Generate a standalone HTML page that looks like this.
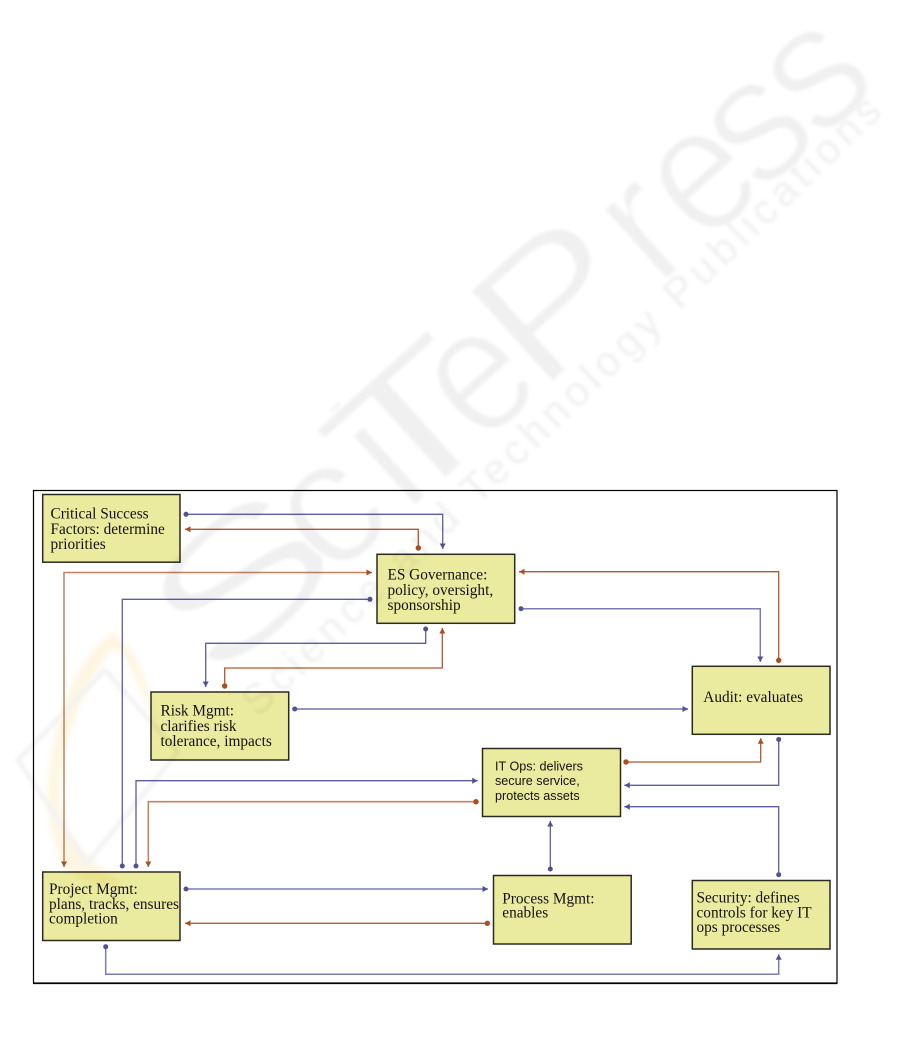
<!DOCTYPE html>
<html>
<head>
<meta charset="utf-8">
<style>
html,body{margin:0;padding:0;background:#fff;width:901px;height:1049px;overflow:hidden}
svg{display:block;position:absolute;left:0;top:0}
.t{font-family:"Liberation Serif",serif;font-size:15.3px;fill:#111}
.s{font-family:"Liberation Sans",sans-serif;font-size:12.6px;fill:#111}
.b{fill:#ebeb9f;stroke:#2a2a1e;stroke-width:1.5}
.bl{fill:none;stroke:#5c5ea4;stroke-width:1.3}
.br{fill:none;stroke:#b4582a;stroke-width:1.3}
.w{font-family:"Liberation Sans",sans-serif;font-size:180px;fill:#f0f0f0;stroke:#fff;stroke-width:3.5}
</style>
</head>
<body>
<svg width="901" height="1049" viewBox="0 0 901 1049" xmlns="http://www.w3.org/2000/svg">
<defs>
<marker id="ab" markerUnits="userSpaceOnUse" markerWidth="8" markerHeight="8" refX="6" refY="4" orient="auto-start-reverse"><path d="M0.5 1 L6 4 L0.5 7 Z" fill="#4f5199"/></marker>
<marker id="ar" markerUnits="userSpaceOnUse" markerWidth="8" markerHeight="8" refX="6" refY="4" orient="auto-start-reverse"><path d="M0.5 1 L6 4 L0.5 7 Z" fill="#ad4f1c"/></marker>
<marker id="db" markerUnits="userSpaceOnUse" markerWidth="6" markerHeight="6" refX="3" refY="3"><circle cx="3" cy="3" r="2.5" fill="#4f5199"/></marker>
<marker id="dr" markerUnits="userSpaceOnUse" markerWidth="6" markerHeight="6" refX="3" refY="3"><circle cx="3" cy="3" r="2.7" fill="#ad4f1c"/></marker>
<filter id="bw" x="-10%" y="-10%" width="120%" height="120%"><feGaussianBlur stdDeviation="1.6"/></filter>
<filter id="bo" x="-20%" y="-20%" width="140%" height="140%"><feGaussianBlur stdDeviation="3"/></filter>
</defs>

<rect x="33.5" y="490.5" width="803.5" height="492.5" fill="#fff" stroke="#000" stroke-width="1.2"/>
<line x1="33" y1="983.3" x2="837.5" y2="983.3" stroke="#000" stroke-width="1.6"/>

<!-- connectors -->
<path class="bl" d="M186 514.3H442.7V549" marker-start="url(#db)" marker-end="url(#ab)"/>
<path class="br" d="M418.3 548V529.3H185" marker-start="url(#dr)" marker-end="url(#ar)"/>
<path class="br" d="M372 572.5H64V867" marker-start="url(#ar)" marker-end="url(#ar)" style="stroke:#c4845f;stroke-width:1.5"/>
<path class="bl" d="M370 599.3H122.3V866" marker-start="url(#db)" marker-end="url(#db)"/>
<path class="bl" d="M425.7 629V643.3H205.7V687" marker-start="url(#db)" marker-end="url(#ab)"/>
<path class="br" d="M224.7 686V668H442.3V628" marker-start="url(#dr)" marker-end="url(#ar)"/>
<path class="bl" d="M294.7 709H688" marker-start="url(#db)" marker-end="url(#ab)" style="stroke:#8587bd;stroke-width:1.8"/>
<path class="br" d="M778.7 660.3V571.7H519" marker-start="url(#dr)" marker-end="url(#ar)"/>
<path class="bl" d="M521 608.7H760.3V662" marker-start="url(#db)" marker-end="url(#ab)" style="stroke:#7a7cb6;stroke-width:1.5"/>
<path class="br" d="M626 762H760.7V738.3" marker-start="url(#dr)" marker-end="url(#ar)"/>
<path class="bl" d="M778.7 739.5V785.3H624.3" marker-start="url(#db)" marker-end="url(#ab)"/>
<path class="bl" d="M778.7 874.7V806.7H624.3" marker-start="url(#db)" marker-end="url(#ab)"/>
<path class="bl" d="M550.3 869V821" marker-start="url(#db)" marker-end="url(#ab)"/>
<path class="bl" d="M136 866V780.7H477.7" marker-start="url(#db)" marker-end="url(#ab)"/>
<path class="br" d="M476 801.7H148.3V867" marker-start="url(#dr)" marker-end="url(#ar)" style="stroke:#c4845f;stroke-width:1.6"/>
<path class="bl" d="M186 889H488" marker-start="url(#db)" marker-end="url(#ab)" style="stroke:#7a7cb6;stroke-width:1.5"/>
<path class="br" d="M487.3 923.3H185" marker-start="url(#dr)" marker-end="url(#ar)"/>
<path class="bl" d="M105.7 946.7V974.3H778.7V954.3" marker-start="url(#db)" marker-end="url(#ab)" style="stroke:#7a7cb6;stroke-width:1.5"/>

<!-- boxes -->
<rect class="b" x="42.7" y="494.5" width="137.3" height="67.7"/>
<rect class="b" x="377" y="554.3" width="137.7" height="69"/>
<rect class="b" x="151" y="692" width="137.7" height="68"/>
<rect class="b" x="692.3" y="666.3" width="137.7" height="68"/>
<rect class="b" x="482.5" y="748.5" width="138" height="68"/>
<rect class="b" x="493.5" y="875.5" width="137.7" height="68.5"/>
<rect class="b" x="692.3" y="880.5" width="137.7" height="68.5"/>
<rect class="b" x="42.7" y="872" width="137.3" height="68.5"/>

<!-- labels -->
<text class="t" x="50.5" y="518.5">Critical Success</text>
<text class="t" x="50.5" y="534">Factors: determine</text>
<text class="t" x="50.5" y="549">priorities</text>
<text class="t" x="387.5" y="579.5">ES Governance:</text>
<text class="t" x="387.5" y="595">policy, oversight,</text>
<text class="t" x="387.5" y="610">sponsorship</text>
<text class="t" x="160.5" y="715.5">Risk Mgmt:</text>
<text class="t" x="160.5" y="731">clarifies risk</text>
<text class="t" x="160.5" y="746">tolerance, impacts</text>
<text class="t" x="703.3" y="702">Audit: evaluates</text>
<text class="s" x="495" y="770.5">IT Ops: delivers</text>
<text class="s" x="495" y="785">secure service,</text>
<text class="s" x="495" y="800">protects assets</text>
<text class="t" x="502.3" y="903.5">Process Mgmt:</text>
<text class="t" x="502.3" y="917.5">enables</text>
<text class="t" x="696.5" y="902.5">Security: defines</text>
<text class="t" x="696.5" y="917.5">controls for key IT</text>
<text class="t" x="696.5" y="932">ops processes</text>
<text class="t" x="49" y="894">Project Mgmt:</text>
<text class="t" x="49" y="909">plans, tracks, ensures</text>
<text class="t" x="49" y="923.5">completion</text>

<!-- watermark -->
<g style="mix-blend-mode:multiply">
  <path d="M113 633C82 650 55 710 48 780C46 815 52 845 66 868C82 884 104 888 124 882C100 872 76 850 62 815C54 770 72 700 113 648C130 660 142 690 150 716C152 696 144 655 113 633Z" fill="#fef6e2" filter="url(#bo)"/>
  <g filter="url(#bw)">
    <path d="M18 760L105 670L178 752L87 863Z" fill="none" stroke="#f3f3f3" stroke-width="5"/>
    <g transform="translate(198 702) rotate(-42)">
      <text class="w" transform="translate(20 0) scale(1.55 1)">S</text>
      <text class="w" transform="translate(180 0)">c</text>
      <text class="w" transform="translate(280 0)">i</text>
      <text class="w" transform="translate(262 0) scale(1.5 1)">T</text>
      <text class="w" transform="translate(380 0) scale(.9 1)">e</text>
      <text class="w" transform="translate(458 0) scale(1.25 1)">P</text>
      <text class="w" transform="translate(618 0)">r</text>
      <text class="w" transform="translate(680 0) scale(.9 1)">e</text>
      <text class="w" transform="translate(757 0) scale(.95 1)">s</text>
      <text class="w" transform="translate(836 0) scale(.95 1)">s</text>
    </g>
    <text x="258" y="718" transform="rotate(-44 258 718)" font-family="Liberation Sans, sans-serif" font-size="42" textLength="870" lengthAdjust="spacing" fill="#f0f0f0">Science and Technology Publications</text>
  </g>
</g>
</svg>
</body>
</html>
